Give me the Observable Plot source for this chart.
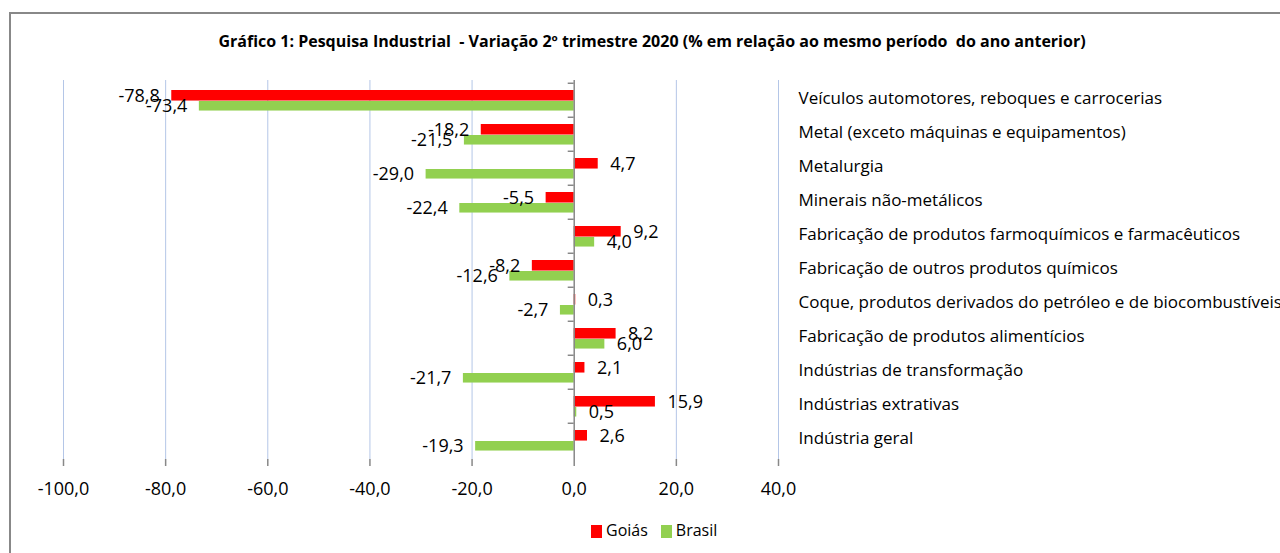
<!DOCTYPE html>
<html>
<head>
<meta charset="utf-8">
<script src="https://cdn.jsdelivr.net/npm/d3@7"></script>
<script src="https://cdn.jsdelivr.net/npm/@observablehq/plot@0.6"></script>
<style>
  html, body { margin: 0; padding: 0; background: #fff; width: 1280px; height: 553px; overflow: hidden; }
  #wrap { position: relative; width: 1280px; height: 553px; font-family: "Open Sans", sans-serif; color: #000; }
  #frame { position: absolute; left: 9px; top: 12px; width: 1300px; height: 600px; border: 2px solid #888; box-sizing: border-box; }
  #title { position: absolute; left: 0; width: 1304px; top: 30px; text-align: center; font-weight: bold; font-size: 16px; white-space: pre; }
  #chart { position: absolute; left: 0; top: 0; }
  #legend { position: absolute; top: 519px; left: 591px; font-size: 16px; white-space: nowrap; }
  #legend span.sw { display: inline-block; width: 11px; height: 13px; vertical-align: -2px; margin-right: 4px; }
  #legend span.lab { margin-right: 13px; }
</style>
</head>
<body>
<div id="wrap">
  <div id="frame"></div>
  <div id="title"></div>
  <div id="chart"></div>
  <div id="legend"></div>
</div>
<script>
const titleText = "Gráfico 1: Pesquisa Industrial  - Variação 2º trimestre 2020 (% em relação ao mesmo período  do ano anterior)";
const categories = [
  "Veículos automotores, reboques e carrocerias",
  "Metal (exceto máquinas e equipamentos)",
  "Metalurgia",
  "Minerais não-metálicos",
  "Fabricação de produtos farmoquímicos e farmacêuticos",
  "Fabricação de outros produtos químicos",
  "Coque, produtos derivados do petróleo e de biocombustíveis",
  "Fabricação de produtos alimentícios",
  "Indústrias de transformação",
  "Indústrias extrativas",
  "Indústria geral"
];
const goias  = [-78.8, -18.2, 4.7, -5.5, 9.2, -8.2, 0.3, 8.2, 2.1, 15.9, 2.6];
const brasil = [-73.4, -21.5, -29.0, -22.4, 4.0, -12.6, -2.7, 6.0, -21.7, 0.5, -19.3];
const seriesNames = ["Goiás", "Brasil"];
const seriesColors = ["#ff0000", "#92d050"];
const xTicks = [-100, -80, -60, -40, -20, 0, 20, 40];

const locale = d3.formatLocale({decimal: ",", thousands: ".", grouping: [3], currency: ["R$", ""], minus: "-"});
const fmt = locale.format(".1f");

const data = [];
categories.forEach((c, i) => {
  data.push({category: c, series: seriesNames[0], value: goias[i]});
  data.push({category: c, series: seriesNames[1], value: brasil[i]});
});
const gData = data.filter(d => d.series === seriesNames[0]);
const bData = data.filter(d => d.series === seriesNames[1]);

document.getElementById("title").textContent = titleText;

const H = 510;
const marginTop = 80, marginBottom = H - 459;
const step = (H - marginTop - marginBottom) / categories.length;

const labelFont = 18;
const chart = Plot.plot({
  width: 1280,
  height: H,
  marginTop,
  marginBottom,
  marginLeft: 63,
  marginRight: 1280 - 778,
  style: {fontFamily: "Open Sans, sans-serif", overflow: "visible", background: "transparent"},
  x: {domain: [-100, 40], ticks: xTicks},
  y: {domain: categories, padding: 0, axis: null},
  marks: [
    Plot.ruleX(xTicks.filter(t => t !== 0), {stroke: "#b4c6e7", strokeWidth: 1}),
    Plot.barX(gData, {y: "category", x: "value", fill: seriesColors[0], insetTop: 7, insetBottom: step - 18}),
    Plot.barX(bData, {y: "category", x: "value", fill: seriesColors[1], insetTop: 18, insetBottom: step - 28}),
    Plot.ruleX([0], {stroke: "#888", strokeWidth: 1.5}),
    Plot.ruleY(categories, {y: d => d, x1: 0, x2: 0, insetRight: 6, dy: -step / 2, stroke: "#888", strokeWidth: 1.5}),
    // data labels
    Plot.text(gData.filter(d => d.value < 0), {y: "category", x: "value", text: d => fmt(d.value), textAnchor: "end", dx: -12, dy: -4.5, fontSize: labelFont, fill: "#000"}),
    Plot.text(gData.filter(d => d.value >= 0), {y: "category", x: "value", text: d => fmt(d.value), textAnchor: "start", dx: 12, dy: -4.5, fontSize: labelFont, fill: "#000"}),
    Plot.text(bData.filter(d => d.value < 0), {y: "category", x: "value", text: d => fmt(d.value), textAnchor: "end", dx: -12, dy: 6, fontSize: labelFont, fill: "#000"}),
    Plot.text(bData.filter(d => d.value >= 0), {y: "category", x: "value", text: d => fmt(d.value), textAnchor: "start", dx: 12, dy: 6, fontSize: labelFont, fill: "#000"}),
    // category labels
    Plot.axisY({anchor: "right", tickSize: 0, tickPadding: 20, fontSize: 17, dy: -1.5, label: null, fill: "#000"}),
    // x axis
    Plot.ruleY([0], {frameAnchor: "bottom", stroke: "#888", strokeWidth: 1.5}),
    Plot.axisX({ticks: xTicks, tickSize: 7, tickPadding: 16, tickFormat: fmt, fontSize: 18, stroke: "#888", strokeWidth: 1.5, label: null, fill: "#000"})
  ]
});
document.getElementById("chart").appendChild(chart);

const legend = document.getElementById("legend");
seriesNames.forEach((s, i) => {
  const sw = document.createElement("span");
  sw.className = "sw";
  sw.style.background = seriesColors[i];
  const lab = document.createElement("span");
  lab.className = "lab";
  lab.textContent = s;
  legend.appendChild(sw);
  legend.appendChild(lab);
});
</script>
</body>
</html>
